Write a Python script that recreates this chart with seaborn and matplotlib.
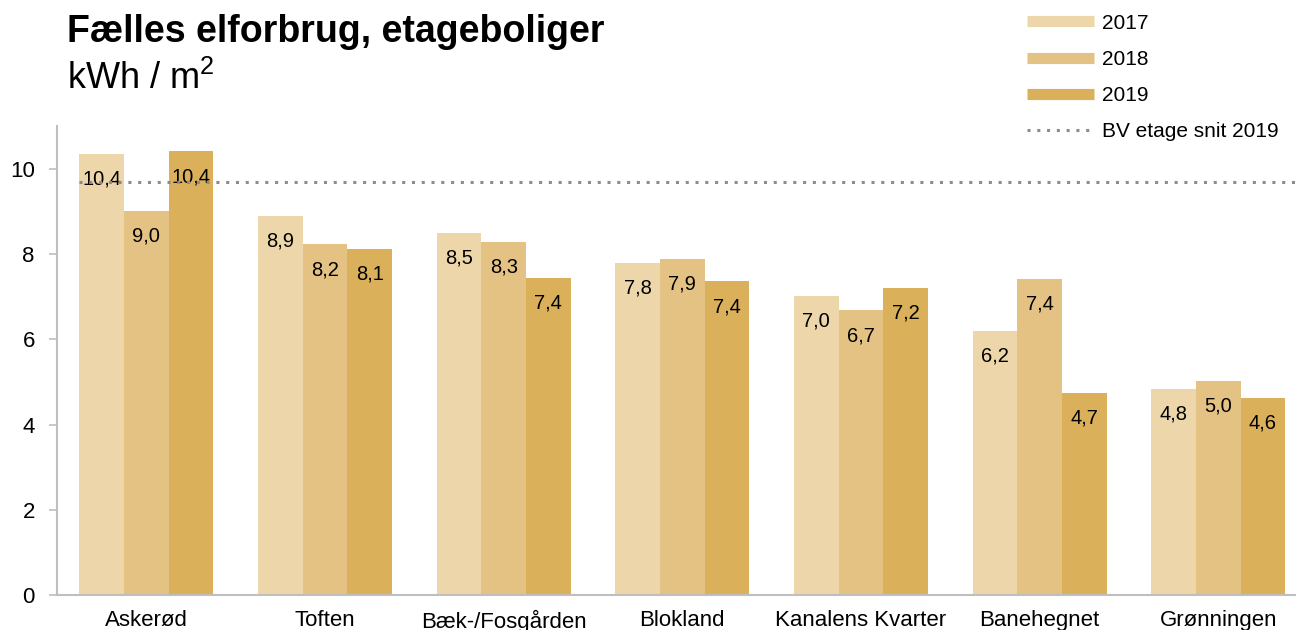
import numpy as np
import pandas as pd
import matplotlib
matplotlib.use("Agg")
import matplotlib.pyplot as plt
import seaborn as sns
from matplotlib.lines import Line2D

# ── Data ─────────────────────────────────────────────
SITES = ["Askerød", "Toften", "Bæk-/Fosgården", "Blokland",
         "Kanalens Kvarter", "Banehegnet", "Grønningen"]
YEARS = ["2017", "2018", "2019"]
V2017 = [10.36, 8.90, 8.50, 7.80, 7.02, 6.20, 4.84]
V2018 = [9.02, 8.23, 8.29, 7.89, 6.68, 7.42, 5.03]
V2019 = [10.41, 8.12, 7.44, 7.36, 7.20, 4.74, 4.62]
BV_AVG_2019 = 9.68

COLORS = ["#EDD6AA", "#E4C283", "#DAB05A"]
LINE_COLOR = "#8C8C8C"
SPINE_COLOR = "#BFBFBF"

df = pd.DataFrame({
    "site": SITES * 3,
    "year": [y for y in YEARS for _ in SITES],
    "value": V2017 + V2018 + V2019,
})

sns.set_theme(style="white")
plt.rcParams["font.family"] = ["Liberation Sans", "DejaVu Sans"]
plt.rcParams["text.color"] = "black"
plt.rcParams["xtick.color"] = "black"
plt.rcParams["ytick.color"] = "black"
plt.rcParams["mathtext.fontset"] = "custom"
plt.rcParams["mathtext.rm"] = "Liberation Sans"

fig = plt.figure(figsize=(12.96, 6.3), dpi=100)
ax = fig.add_axes([0.044, 0.0556, 0.965, 0.744])

sns.barplot(data=df, x="site", y="value", hue="year", order=SITES, hue_order=YEARS,
            palette=COLORS, width=0.75, saturation=1, gap=0, linewidth=0, ax=ax,
            legend=False)

for cont in ax.containers:
    ax.bar_label(cont, labels=[f"{v:.1f}".replace(".", ",") for v in cont.datavalues],
                 padding=-25, fontsize=14.5, color="black")

# BV average line
ax.hlines(BV_AVG_2019, -0.375, 6.6, colors=LINE_COLOR, linestyles=(0, (1, 2.2)),
          linewidth=2.2, zorder=3)

ax.set_xlim(-0.5, 6.5)
ax.set_ylim(0, 11)
ax.set_yticks(np.arange(0, 11, 2))
ax.set_xlabel("")
ax.set_ylabel("")
ax.tick_params(axis="y", length=6, color=SPINE_COLOR, width=1.2, labelsize=16, pad=10,
               left=True, labelcolor="black")
ax.tick_params(axis="x", length=0, labelsize=16, pad=11, labelcolor="black")
for s in ["top", "right"]:
    ax.spines[s].set_visible(False)
for s in ["left", "bottom"]:
    ax.spines[s].set_color(SPINE_COLOR)
    ax.spines[s].set_linewidth(1.5)

# Title
fig.text(0.052, 0.95, "Fælles elforbrug, etageboliger", fontsize=27, fontweight="bold",
         va="center", ha="left")
fig.text(0.052, 0.875, r"kWh / m$^{\mathrm{2}}$", fontsize=26, va="center", ha="left")

# Legend
handles = [Line2D([0], [0], color=c, linewidth=8, solid_capstyle="butt") for c in COLORS]
handles.append(Line2D([0], [0], color=LINE_COLOR, linestyle=(0, (1, 2.2)), linewidth=2.2))
fig.legend(handles, YEARS + ["BV etage snit 2019"], loc="upper left",
           bbox_to_anchor=(0.778, 1.008), frameon=False, fontsize=15,
           handlelength=3.2, handletextpad=0.4, labelspacing=0.82)

fig.savefig("out.png", dpi=100)
